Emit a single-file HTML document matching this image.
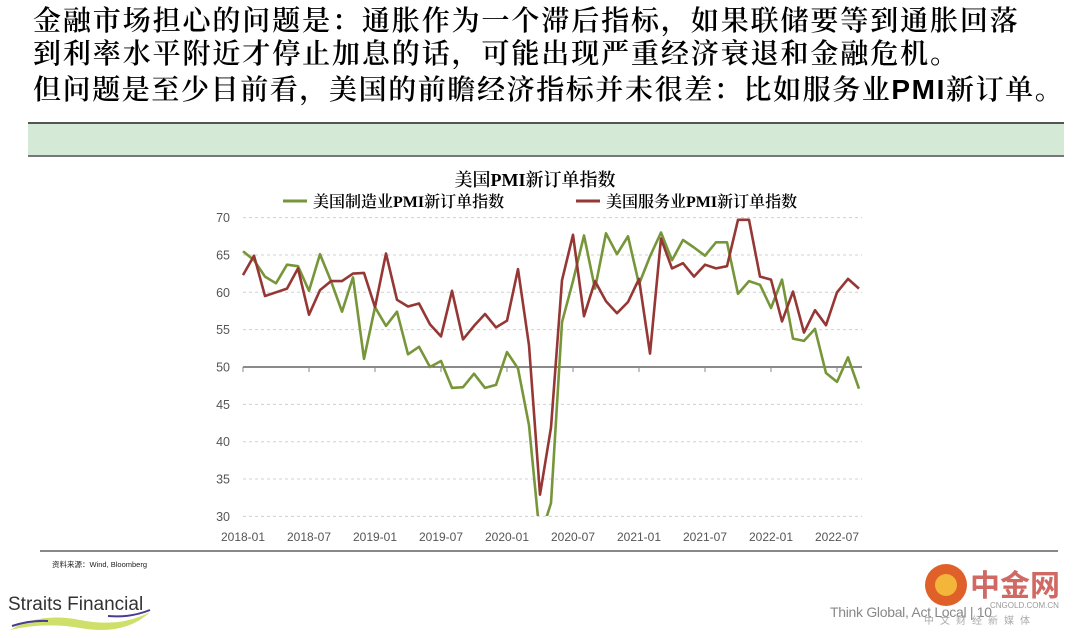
<!DOCTYPE html>
<html><head><meta charset="utf-8">
<style>
html,body{margin:0;padding:0;background:#fff;}
body{width:1080px;height:638px;position:relative;overflow:hidden;font-family:"Liberation Sans","Noto Sans CJK SC",sans-serif;}
.h{position:absolute;left:33px;font-family:"Liberation Serif","Noto Serif CJK SC",serif;font-weight:600;font-size:28px;line-height:32px;white-space:nowrap;color:#000;letter-spacing:1.9px}
.band{position:absolute;left:28px;top:122px;width:1036px;height:31px;background:#d4e9d6;border-top:2px solid #555;border-bottom:2px solid #777;}
</style></head><body>
<div class="h" style="top:6px">金融市场担心的问题是：通胀作为一个滞后指标，如果联储要等到通胀回落</div>
<div class="h" style="top:39px">到利率水平附近才停止加息的话，可能出现严重经济衰退和金融危机。</div>
<div class="h" style="top:74px;letter-spacing:1.6px">但问题是至少目前看，美国的前瞻经济指标并未很差：比如服务业<span style="font-family:'Liberation Sans',sans-serif;font-weight:bold">PMI</span>新订单。</div>
<div class="band"></div>

<svg width="1080" height="638" style="position:absolute;left:0;top:0" xmlns="http://www.w3.org/2000/svg">
<defs><clipPath id="c"><rect x="230" y="210" width="640" height="306"/></clipPath></defs>
<text x="535" y="186" text-anchor="middle" font-family="Liberation Serif,Noto Serif CJK SC,serif" font-weight="600" font-size="18">美国PMI新订单指数</text>
<line x1="283" y1="201" x2="307" y2="201" stroke="#77963a" stroke-width="3"/>
<text x="313" y="207" font-family="Liberation Serif,Noto Serif CJK SC,serif" font-weight="600" font-size="16">美国制造业PMI新订单指数</text>
<line x1="576" y1="201" x2="600" y2="201" stroke="#953735" stroke-width="3"/>
<text x="606" y="207" font-family="Liberation Serif,Noto Serif CJK SC,serif" font-weight="600" font-size="16">美国服务业PMI新订单指数</text>
<g id="grid" stroke="#d0d0d0" stroke-dasharray="3,3" stroke-width="1"></g>
<g id="yl" font-size="12.5" fill="#555" text-anchor="end"></g>
<line x1="243" y1="367" x2="862" y2="367" stroke="#444" stroke-width="1.2"/>
<g id="ticks" stroke="#888"></g>
<g id="xl" font-size="12" fill="#555" text-anchor="middle"></g>
<g clip-path="url(#c)">
<polyline id="g" fill="none" stroke="#77963a" stroke-width="2.6" stroke-linejoin="round"/>
<polyline id="r" fill="none" stroke="#953735" stroke-width="2.6" stroke-linejoin="round"/>
</g>
<line x1="40" y1="551" x2="1058" y2="551" stroke="#888" stroke-width="2"/>
<text x="52" y="567" font-size="7.5" fill="#222">资料来源：Wind, Bloomberg</text>
<text x="8" y="610" font-size="19" fill="#333">Straits Financial</text>
<path d="M10 630 Q40 612 80 620 Q120 628 150 612 Q125 636 80 628 Q45 622 10 630Z" fill="#cfe06a"/>
<path d="M108 616 Q130 618 150 610" stroke="#4a3d8f" stroke-width="2" fill="none"/>
<path d="M12 626 Q30 620 48 621" stroke="#4a3d8f" stroke-width="2" fill="none"/>
<text x="830" y="617" font-size="14" fill="#888" letter-spacing="-0.3">Think Global, Act Local  |  10</text>
<circle cx="946" cy="585" r="21" fill="#e0602a"/>
<circle cx="946" cy="585" r="11" fill="#f3b53a"/>
<text x="970" y="596" font-size="30" fill="#c8504a" font-family="Noto Sans CJK SC,sans-serif" font-weight="bold" opacity="0.85">中金网</text>
<text x="990" y="608" font-size="8" fill="#999">CNGOLD.COM.CN</text>
<text x="924" y="624" font-size="10" fill="#aaa" letter-spacing="6" font-family="Noto Sans CJK SC,sans-serif">中文财经新媒体</text>
</svg>
<script>
var X=function(m){return 243+11*m},Y=function(v){return 367-(v-50)*7.47};
var g=[65.5,64.3,62.1,61.2,63.7,63.5,60.2,65.1,61.5,57.4,62,51.1,58,55.5,57.4,51.7,52.7,50,50.8,47.2,47.3,49.1,47.2,47.6,52,49.8,42.2,27.1,31.8,56,61.5,67.6,60.5,67.9,65.1,67.5,61.1,64.8,68,64.3,67,66,64.9,66.7,66.7,59.8,61.5,61,57.9,61.7,53.8,53.5,55.1,49.2,48,51.3,47.1];
var r=[62.3,64.9,59.5,60,60.5,63.2,57,60.3,61.5,61.5,62.5,62.6,58,65.2,59,58.1,58.5,55.7,54.1,60.2,53.7,55.5,57.1,55.3,56.2,63.1,52.9,32.9,41.9,61.6,67.7,56.8,61.5,58.8,57.2,58.7,61.8,51.8,67.2,63.2,63.9,62.1,63.7,63.2,63.5,69.7,69.7,62.1,61.7,56.1,60.1,54.6,57.6,55.6,60,61.8,60.5];
function pts(a){return a.map(function(v,i){return X(i).toFixed(1)+","+Y(v).toFixed(1)}).join(" ")}
document.getElementById("g").setAttribute("points",pts(g));
document.getElementById("r").setAttribute("points",pts(r));
var s="";
for(var v=30;v<=70;v+=5){if(v!=50)s+='<line x1="243" x2="862" y1="'+Y(v)+'" y2="'+Y(v)+'"/>';}
document.getElementById("grid").innerHTML=s;
s="";for(v=30;v<=70;v+=5)s+='<text x="230" y="'+(Y(v)+4.5)+'">'+v+'</text>';
document.getElementById("yl").innerHTML=s;
var lb=["2018-01","2018-07","2019-01","2019-07","2020-01","2020-07","2021-01","2021-07","2022-01","2022-07"];
s="";var t="";lb.forEach(function(l,i){s+='<text x="'+X(i*6)+'" y="541">'+l+'</text>';t+='<line x1="'+X(i*6)+'" x2="'+X(i*6)+'" y1="367" y2="372"/>';});
document.getElementById("xl").innerHTML=s;document.getElementById("ticks").innerHTML=t;
</script>
</body></html>
